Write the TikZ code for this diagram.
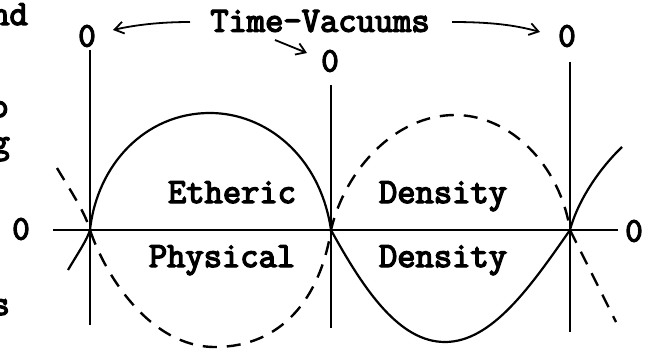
\documentclass[tikz,border=0pt]{standalone}
\usepackage{fontspec}
\newfontfamily\twfont[FakeBold=4]{Latin Modern Mono}
\usetikzlibrary{arrows.meta}
\tikzset{
  tw/.style={font=\twfont\fontsize{35.5}{35.5}\selectfont, inner sep=0pt},
  zero/.style={font=\twfont\fontsize{34}{34}\selectfont, inner sep=0pt},
  vline/.style={line width=1.4pt},
  axis/.style={line width=2.6pt},
  wave/.style={line width=2.2pt},
  dwave/.style={line width=2.4pt, dash pattern=on 14pt off 10pt},
  arr/.style={line width=1.8pt, -{Straight Barb[length=9pt,width=12pt,line width=1.8pt]}}
}
\begin{document}
\begin{tikzpicture}[x=1pt,y=-1pt]
\clip (0,0) rectangle (648,350);
\fill[white] (0,0) rectangle (648,350);

% cropped margin fragments
\node[tw, anchor=base east] (fa) at (28,25) {nd};
\node[tw, anchor=base east] (fb) at (9,117) {o};
\node[tw, anchor=base east] (fc) at (10,153) {g};
\node[tw, anchor=base east] (fd) at (10,315) {s};

% labels
\node[tw] (tv) at (320,21) {Time-Vacuums};
\node[zero] (z1) at (87,36) {0};
\node[zero] (z2) at (330,61) {0};
\node[zero] (z3) at (567,36) {0};
\node[zero] (zl) at (21,229) {0};
\node[zero] (zr) at (634,231) {0};

\node[tw, anchor=base] (eth) at (232,203) {Etheric};
\node[tw, anchor=base] (den1) at (443,203) {Density};
\node[tw, anchor=base] (phy) at (222,267) {Physical};
\node[tw, anchor=base] (den2) at (443,267) {Density};

% coordinates
\coordinate (L) at (90,230);
\coordinate (M) at (331,230);
\coordinate (R) at (570,230);
\coordinate (Lt) at (90,50);  \coordinate (Lb) at (90,325);
\coordinate (Mt) at (331,85); \coordinate (Mb) at (331,328);
\coordinate (Rt) at (570,62); \coordinate (Rb) at (570,332);
\coordinate (Ax1) at (53,230); \coordinate (Ax2) at (618,230);

% axes
\draw[vline] (Lt) -- (Lb);
\draw[vline] (Mt) -- (Mb);
\draw[vline] (Rt) -- (Rb);
\draw[axis] (Ax1) -- (Ax2);

% solid wave
\draw[wave] (68,270) .. controls (78,253) and (87,240) .. (L)
  .. controls (97,165) and (145,113) .. (210,113)
  .. controls (265,113) and (320,155) .. (M)
  .. controls (365,292) and (400,342) .. (445,342)
  .. controls (492,342) and (531,286) .. (R)
  .. controls (578,200) and (600,168) .. (622,147);

% dashed wave
\draw[dwave] (57,168) .. controls (70,190) and (85,212) .. (L)
  .. controls (105,275) and (150,347) .. (215,347)
  .. controls (280,347) and (320,300) .. (M)
  .. controls (345,170) and (395,115) .. (455,115)
  .. controls (510,115) and (560,165) .. (R)
  .. controls (585,260) and (600,290) .. (616,322);

% arrows
\coordinate (a1s) at (190,22); \coordinate (a1e) at (113,30);
\coordinate (a2s) at (275,40); \coordinate (a2e) at (307,53);
\coordinate (a3s) at (452,22); \coordinate (a3e) at (540,32);
\draw[arr] (a1s) .. controls (160,22) and (135,25) .. (a1e);
\draw[arr] (a2s) -- (a2e);
\draw[arr] (a3s) .. controls (490,22) and (515,25) .. (a3e);
\end{tikzpicture}
\end{document}
